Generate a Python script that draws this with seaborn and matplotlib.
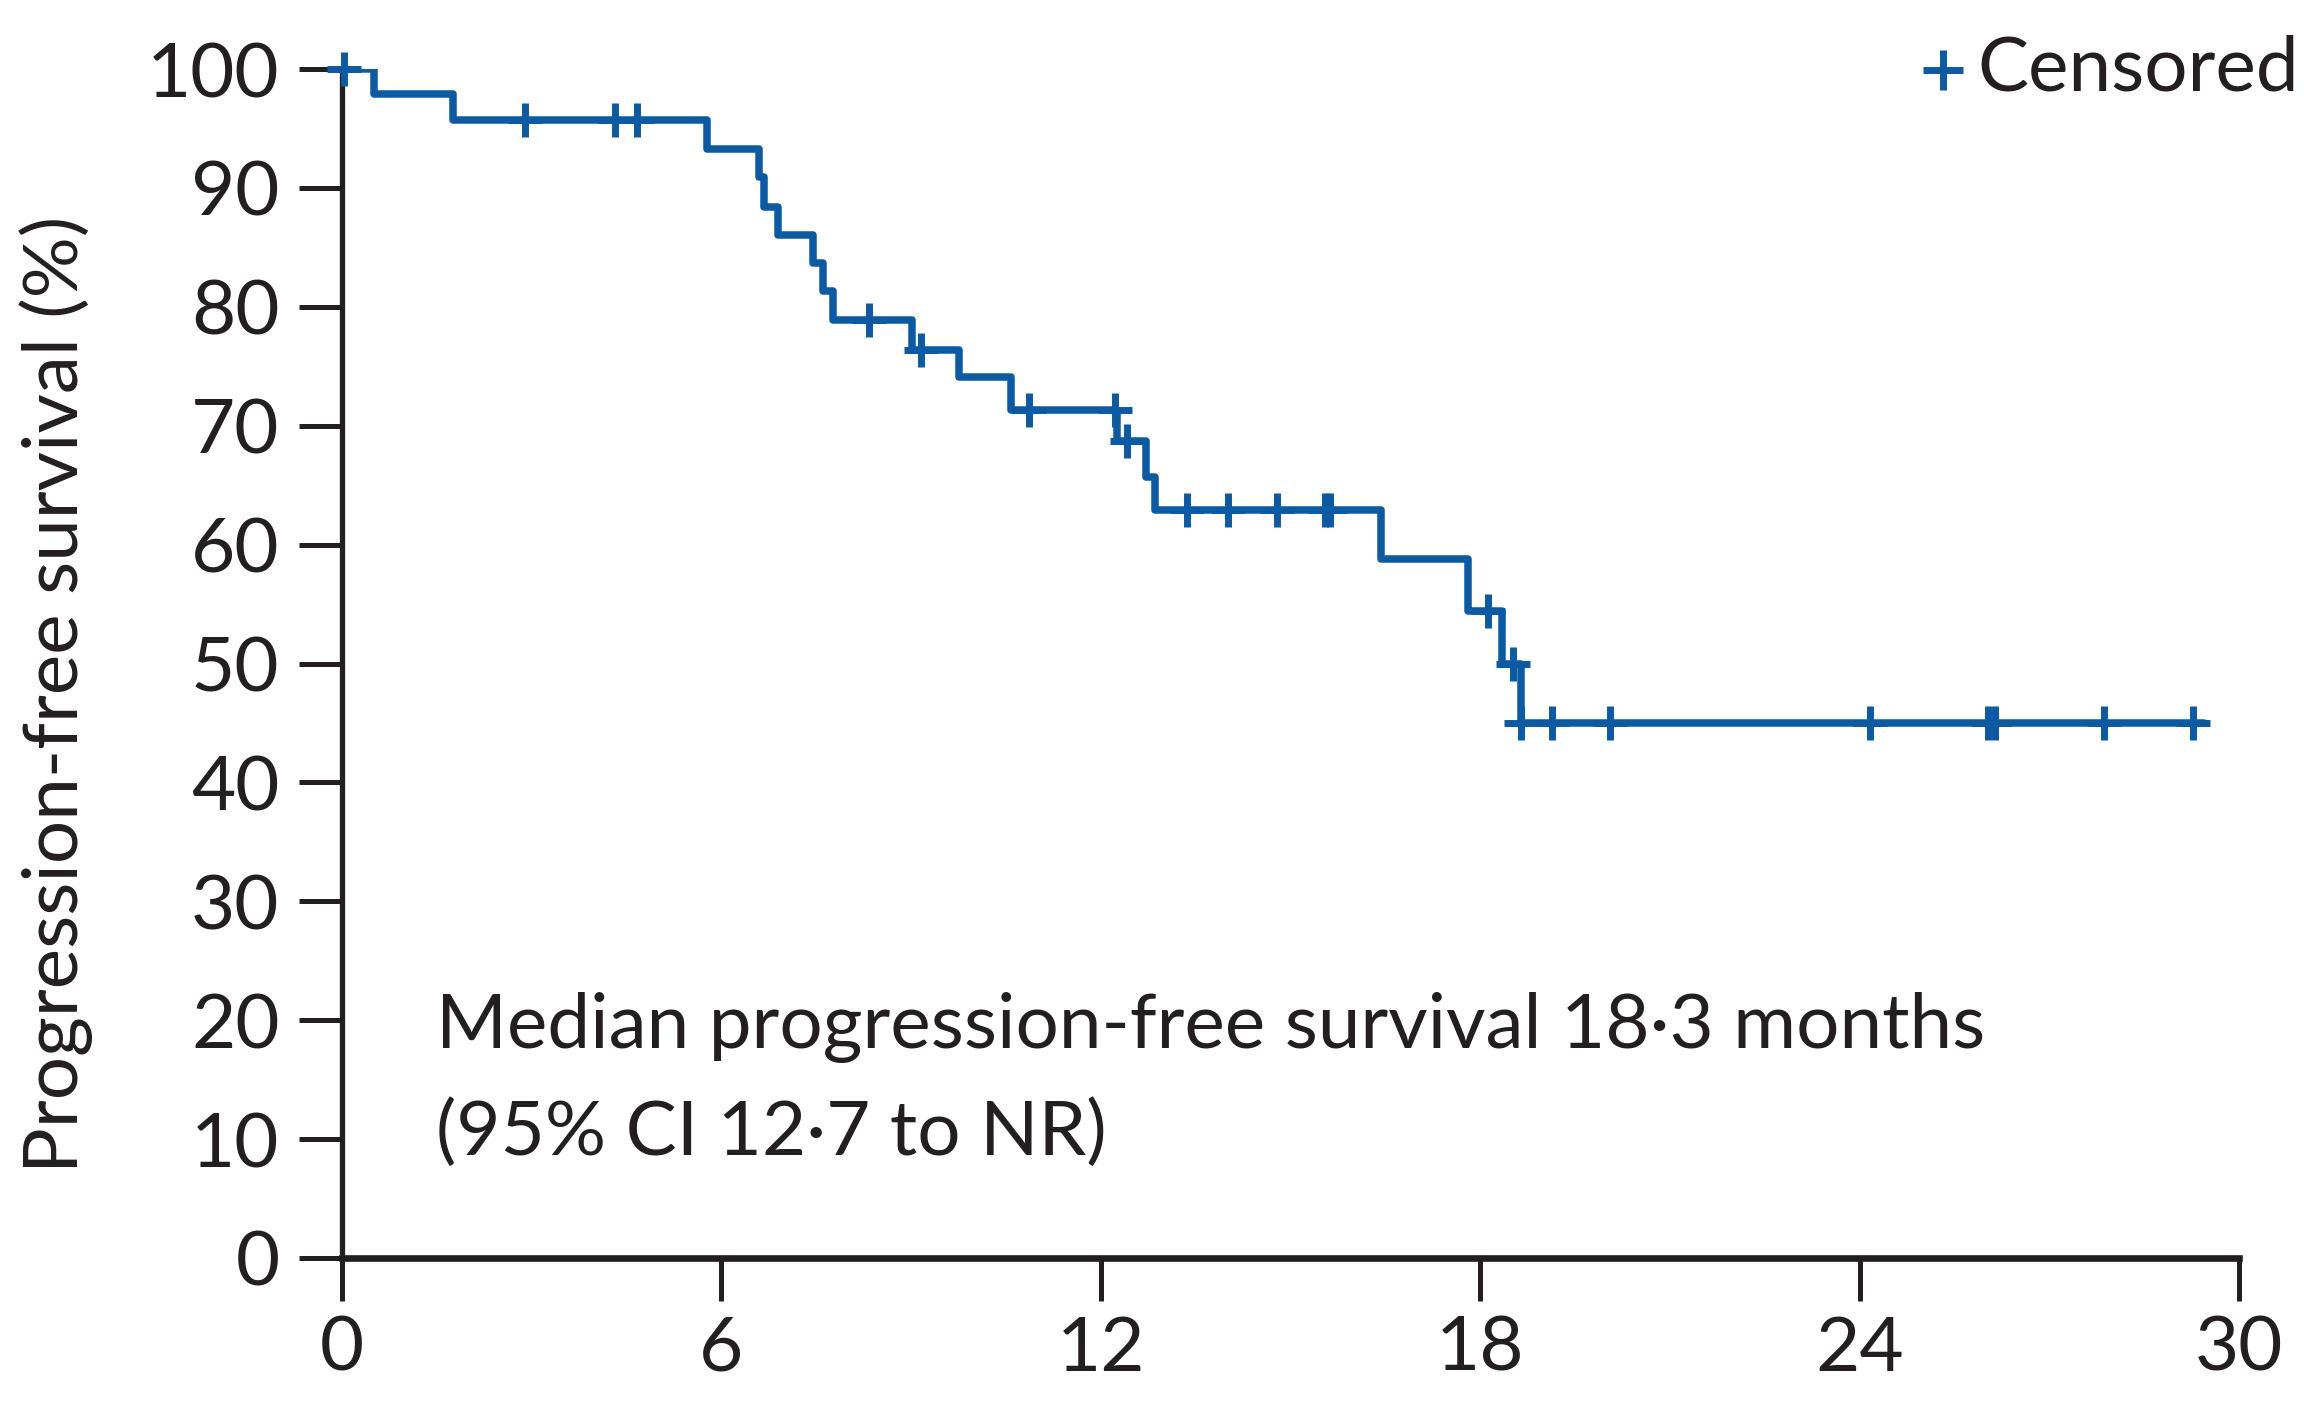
import numpy as np
import pandas as pd
import matplotlib
matplotlib.use("Agg")
import matplotlib.pyplot as plt
import seaborn as sns

# Kaplan-Meier step points (months, % progression-free)
step_months = [0, 0.51, 1.76, 5.77, 6.60, 6.68, 6.90, 7.45, 7.61, 7.77, 9.01,
               9.76, 10.58, 12.26, 12.71, 12.86, 16.43, 17.81, 18.35, 18.64, 29.44]
step_pfs = [100, 97.9, 95.7, 93.3, 90.9, 88.4, 86.0, 83.7, 81.3, 78.9, 76.4,
            74.1, 71.3, 68.7, 65.7, 62.9, 58.8, 54.4, 50.0, 45.0, 45.0]

# Censoring times (months)
censor_months = [0.03, 2.89, 4.31, 4.66, 8.33, 9.16, 10.87, 12.22, 12.42, 13.37,
                 14.01, 14.78, 15.54, 15.62, 18.12, 18.52, 18.64, 19.14, 20.06,
                 24.17, 26.03, 26.14, 27.86, 29.27]

x_ticks = [0, 6, 12, 18, 24, 30]
y_ticks = [0, 10, 20, 30, 40, 50, 60, 70, 80, 90, 100]

BLUE = "#0b5aa5"
INK = "#231f20"

sns.set_theme(style="ticks")
plt.rcParams["font.family"] = ["Lato", "DejaVu Sans"]
plt.rcParams["text.color"] = INK
plt.rcParams["axes.labelcolor"] = INK
plt.rcParams["xtick.color"] = INK
plt.rcParams["ytick.color"] = INK

curve = pd.DataFrame({"month": step_months, "pfs": step_pfs})
idx = np.searchsorted(step_months, censor_months, side="right") - 1
censored = pd.DataFrame({"month": censor_months,
                         "pfs": np.asarray(step_pfs)[idx]})

fig = plt.figure(figsize=(23.04, 14.14), dpi=100)
ax = fig.add_axes([342 / 2304, 1 - 1258 / 1414, (2239 - 342) / 2304, (1258 - 69) / 1414])

sns.lineplot(data=curve, x="month", y="pfs", ax=ax, color=BLUE, linewidth=5.4,
             drawstyle="steps-post", estimator=None, sort=False, legend=False)
sns.scatterplot(data=censored, x="month", y="pfs", ax=ax, marker="+", s=600,
                color=BLUE, linewidth=5.0, label="Censored", clip_on=False, zorder=5)

ax.set_xlim(0, 30)
ax.set_ylim(0, 100)
ax.set_xticks(x_ticks)
ax.set_yticks(y_ticks)
ax.set_xticklabels([str(t) for t in x_ticks])
ax.set_yticklabels([str(t) for t in y_ticks])
ax.tick_params(axis="both", direction="out", length=31, width=3.6, labelsize=55)
ax.tick_params(axis="x", pad=10)
ax.tick_params(axis="y", pad=14)
sns.despine(ax=ax)
ax.spines["left"].set_linewidth(3.8)
ax.spines["bottom"].set_linewidth(4.8)
ax.spines["left"].set_color(INK)
ax.spines["bottom"].set_color(INK)

ax.set_xlabel("")
ax.set_ylabel("Progression-free survival (%)", fontsize=55)
ax.yaxis.set_label_coords((56 - 342) / (2239 - 342), (1258 - 694) / (1258 - 69))
ax.yaxis.label.set_verticalalignment("center")

ax.text(1.49, 17.7, "Median progression-free survival 18·3 months",
        fontsize=55, ha="left", va="baseline", color=INK)
ax.text(1.49, 8.66, "(95% CI 12·7 to NR)",
        fontsize=55, ha="left", va="baseline", color=INK)

ax.legend(loc="center left", bbox_to_anchor=(1912 / 2304, 1 - 69 / 1414),
          bbox_transform=fig.transFigure, frameon=False, fontsize=55,
          handlelength=0.8, handletextpad=0.05, borderpad=0, borderaxespad=0,
          markerscale=1.15)

fig.savefig("out.png", dpi=100, facecolor="white")
